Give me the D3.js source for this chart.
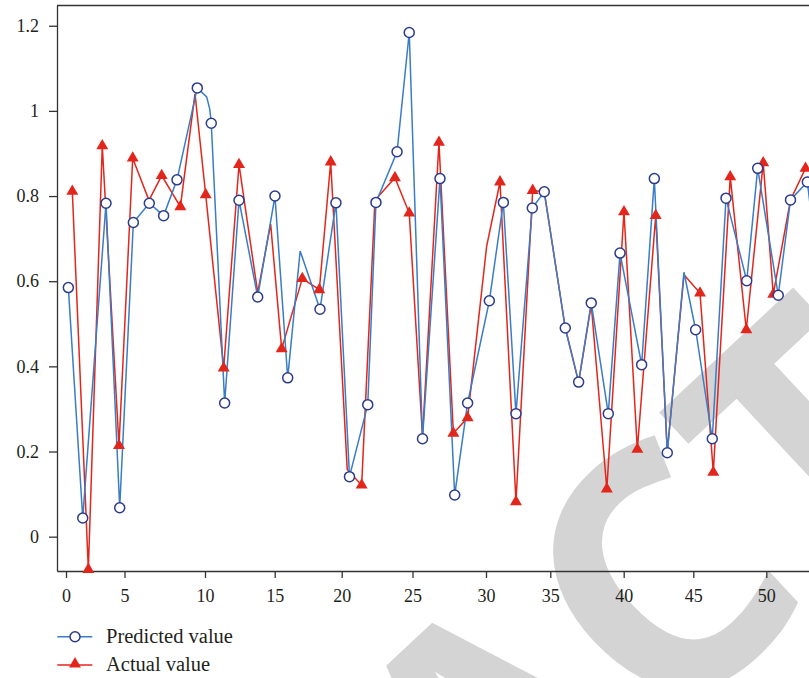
<!DOCTYPE html>
<html>
<head>
<meta charset="utf-8">
<script src="https://cdn.jsdelivr.net/npm/d3@7"></script>
<style>
  body { margin: 0; background: #fff; }
  svg { display: block; }
</style>
</head>
<body>
<svg id="chart" width="809" height="678"></svg>
<script>
// sample positions and values (flag 0 = vertex without a marker)
let predX = [0.20, 1.43, 3.42, 4.59, 5.55, 6.54, 7.43, 8.26, 9.52, 10.12, 10.34, 10.45, 11.41, 12.44,
  13.78, 15.02, 15.97, 16.90, 18.38, 19.57, 20.55, 21.84, 22.42, 23.91, 24.77, 25.68, 26.87, 27.87,
  28.75, 30.26, 31.35, 32.33, 33.60, 34.53, 36.02, 36.93, 37.79, 38.95, 39.75, 41.29, 42.20, 43.13,
  44.33, 45.16, 46.30, 47.24, 48.66, 49.41, 50.86, 51.74, 52.95, 54.00];
let predY = [0.585, 0.044, 0.783, 0.068, 0.738, 0.783, 0.754, 0.838, 1.054, 1.033, 1.004, 0.971, 0.314, 0.790,
  0.563, 0.800, 0.373, 0.671, 0.534, 0.784, 0.141, 0.310, 0.785, 0.904, 1.184, 0.230, 0.841, 0.098,
  0.314, 0.554, 0.785, 0.289, 0.772, 0.810, 0.490, 0.363, 0.549, 0.289, 0.666, 0.404, 0.841, 0.197,
  0.621, 0.486, 0.230, 0.795, 0.601, 0.865, 0.567, 0.791, 0.833, 0.550];
let predMark = [1, 1, 1, 1, 1, 1, 1, 1, 1, 0, 0, 1, 1, 1,
  1, 1, 1, 0, 1, 1, 1, 1, 1, 1, 1, 1, 1, 1,
  1, 1, 1, 1, 1, 1, 1, 1, 1, 1, 1, 1, 1, 1,
  0, 1, 1, 1, 1, 1, 1, 1, 1, 0];

let actX = [0.54, 1.91, 3.10, 4.53, 5.51, 6.52, 7.31, 8.47, 9.38, 10.05, 11.34, 12.44, 13.78, 14.71,
  15.52, 17.06, 18.33, 19.18, 20.39, 21.41, 22.35, 23.76, 24.77, 25.68, 26.80, 27.78, 28.75, 30.05,
  31.09, 32.33, 33.63, 34.53, 36.02, 36.93, 37.79, 38.85, 40.02, 40.98, 42.30, 43.13, 44.33, 45.46,
  46.37, 47.53, 48.63, 49.79, 50.50, 51.74, 52.82];
let actY = [0.811, -0.077, 0.918, 0.214, 0.889, 0.790, 0.848, 0.775, 1.040, 0.803, 0.396, 0.874, 0.573, 0.734,
  0.441, 0.606, 0.580, 0.880, 0.158, 0.121, 0.790, 0.843, 0.760, 0.235, 0.926, 0.243, 0.279, 0.682,
  0.833, 0.082, 0.813, 0.810, 0.490, 0.363, 0.545, 0.112, 0.763, 0.205, 0.754, 0.200, 0.615, 0.572,
  0.151, 0.845, 0.486, 0.878, 0.569, 0.791, 0.865];
let actMark = [1, 1, 1, 1, 1, 0, 1, 1, 0, 1, 1, 1, 0, 0,
  1, 1, 1, 1, 0, 1, 0, 1, 1, 0, 1, 1, 1, 0,
  1, 1, 1, 0, 0, 0, 0, 1, 1, 1, 1, 0, 0, 1,
  1, 1, 1, 1, 1, 0, 1];

let xTicks = [0, 5, 10, 15, 20, 25, 30, 35, 40, 45, 50];
let yTicks = [0, 0.2, 0.4, 0.6, 0.8, 1, 1.2];
let seriesNames = ['Predicted value', 'Actual value'];
let watermark = 'RETRACTED';

let width = 809;
let height = 678;
let plotLeft = 57, plotTop = 5.5, plotBottom = 571;

let blue = '#3a7cc6';
let navy = '#2b3b8c';
let red = '#e2261c';
let axisColor = '#333';
let serif = '"Liberation Serif", "Times New Roman", serif';

let svg = d3.select('#chart');

// the printed x axis is unevenly spaced, so the scale follows the printed tick positions
let x = d3.scaleLinear()
  .domain([-0.77].concat(xTicks, [53.07]))
  .range([plotLeft, 66, 124.5, 205, 274.7, 341.7, 412.5, 486, 550.3, 623.7, 693.3, 766.3, width]);

let y = d3.scaleLinear()
  .domain([-0.0806, 1.2475])
  .range([plotBottom, plotTop]);

let pred = predX.map(function(d, i) { return { x: d, y: predY[i], mark: predMark[i] }; });
let act = actX.map(function(d, i) { return { x: d, y: actY[i], mark: actMark[i] }; });

function drawWatermark() {
  let g = svg.append('g')
    .attr('transform', 'translate(657,579) rotate(-43)');
  let fs = 340;
  let t = g.append('text')
    .attr('font-family', '"Open Sans", "Noto Sans", sans-serif')
    .attr('font-weight', 'bold')
    .attr('font-size', fs)
    .attr('fill', '#d4d4d4')
    .text(watermark);
  // centre the "C" on the spot where it sits in the figure
  let c = t.node().getExtentOfChar(5);
  t.attr('x', -(c.x + c.width / 2))
    .attr('y', fs * 0.36);
}

function drawAxes() {
  let yAxis = d3.axisLeft(y)
    .tickValues(yTicks)
    .tickSize(8)
    .tickSizeOuter(0)
    .tickPadding(10)
    .tickFormat(function(d) { return (d === 0 || d === 1) ? String(d) : d.toFixed(1); });

  let xAxis = d3.axisBottom(x)
    .tickValues(xTicks)
    .tickSize(7)
    .tickSizeOuter(0)
    .tickPadding(11);

  let gy = svg.append('g')
    .attr('transform', 'translate(' + plotLeft + ',0)')
    .call(yAxis);

  let gx = svg.append('g')
    .attr('transform', 'translate(0,' + plotBottom + ')')
    .call(xAxis);

  [gx, gy].forEach(function(g) {
    g.select('.domain').attr('stroke', axisColor).attr('stroke-width', 1.3);
    g.selectAll('.tick line').attr('stroke', axisColor).attr('stroke-width', 1.3);
    g.selectAll('.tick text')
      .attr('font-family', serif)
      .attr('font-size', 18)
      .attr('fill', '#231f20');
  });

  // top border of the frame
  svg.append('line')
    .attr('x1', plotLeft)
    .attr('x2', width)
    .attr('y1', plotTop)
    .attr('y2', plotTop)
    .attr('stroke', axisColor)
    .attr('stroke-width', 1.3);
}

function drawSeries() {
  let line = d3.line()
    .x(function(d) { return x(d.x); })
    .y(function(d) { return y(d.y); });

  svg.append('path')
    .datum(act)
    .attr('fill', 'none')
    .attr('stroke', red)
    .attr('stroke-width', 1.5)
    .attr('d', line);

  svg.append('path')
    .datum(pred)
    .attr('fill', 'none')
    .attr('stroke', blue)
    .attr('stroke-width', 1.5)
    .attr('d', line);

  let tri = d3.symbol().type(d3.symbolTriangle).size(62);

  svg.append('g').selectAll('path')
    .data(act.filter(function(d) { return d.mark; }))
    .join('path')
    .attr('transform', function(d) { return 'translate(' + x(d.x) + ',' + y(d.y) + ')'; })
    .attr('d', tri)
    .attr('fill', red);

  svg.append('g').selectAll('circle')
    .data(pred.filter(function(d) { return d.mark; }))
    .join('circle')
    .attr('cx', function(d) { return x(d.x); })
    .attr('cy', function(d) { return y(d.y); })
    .attr('r', 5)
    .attr('fill', '#fff')
    .attr('stroke', navy)
    .attr('stroke-width', 1.5);
}

function drawLegend() {
  let items = [
    { name: seriesNames[0], color: blue, y: 636.7 },
    { name: seriesNames[1], color: red, y: 665 }
  ];

  let g = svg.append('g');

  items.forEach(function(it, i) {
    g.append('line')
      .attr('x1', 57.3)
      .attr('x2', 92.3)
      .attr('y1', it.y)
      .attr('y2', it.y)
      .attr('stroke', it.color)
      .attr('stroke-width', 1.5);

    if (i === 0) {
      g.append('circle')
        .attr('cx', 75)
        .attr('cy', it.y)
        .attr('r', 5)
        .attr('fill', '#fff')
        .attr('stroke', navy)
        .attr('stroke-width', 1.5);
    } else {
      g.append('path')
        .attr('transform', 'translate(75,' + (it.y - 1) + ')')
        .attr('d', d3.symbol().type(d3.symbolTriangle).size(62))
        .attr('fill', red);
    }

    g.append('text')
      .attr('x', 106)
      .attr('y', it.y + 6)
      .attr('font-family', serif)
      .attr('font-size', 20.5)
      .attr('fill', '#231f20')
      .text(it.name);
  });
}

drawWatermark();
drawAxes();
drawSeries();
drawLegend();
</script>
</body>
</html>
